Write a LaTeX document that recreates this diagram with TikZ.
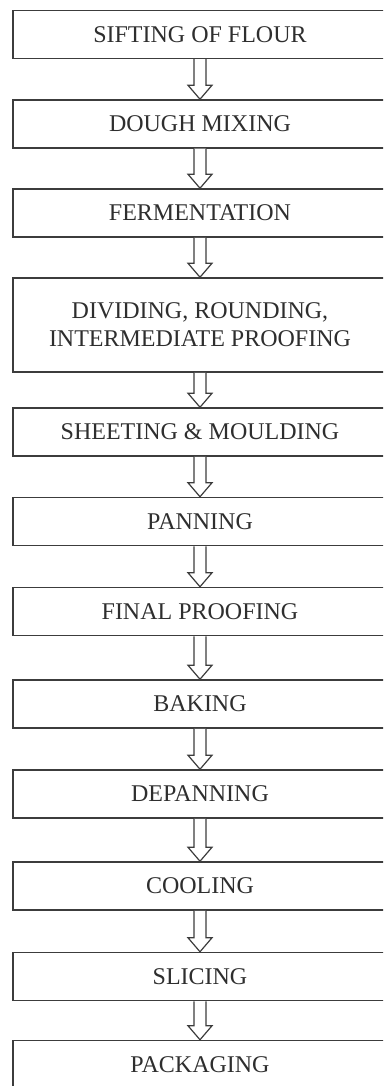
\documentclass[tikz,border=0pt]{standalone}
\usepackage{fontspec}
\setmainfont{Liberation Serif}
\usetikzlibrary{calc}
\definecolor{boxline}{HTML}{3C3C3C}
\definecolor{boxtext}{HTML}{2E2E2E}
\begin{document}
\begin{tikzpicture}[x=1pt, y=1pt, line width=1.5pt,
    step node/.style={rectangle, draw=boxline, text=boxtext, minimum width=374pt, minimum height=48pt, inner sep=0pt, align=center, font=\fontsize{24}{28}\selectfont},
    block arrow/.style={draw=boxline, fill=white, line width=1.2pt, to path={($(\tikztostart)+(-6,0)$) -- ($(\tikztotarget)+(-6,14)$) -- ++(-6,0) -- (\tikztotarget) -- ++(12,14) -- ++(-6,0) -- ($(\tikztostart)+(6,0)$) \tikztonodes}}]

                \path[use as bounding box] (0,0) rectangle (383,-1086);
                \clip (0,0) rectangle (383,-1086);

                \node[step node] at (200, -34.5) (sift) {SIFTING OF FLOUR};
                \node[step node] at (200, -124) (mix) {DOUGH MIXING};
                \node[step node] at (200, -213) (ferm) {FERMENTATION};
                \node[step node, minimum height=94pt] at (200, -325) (divide) {DIVIDING, ROUNDING,\\INTERMEDIATE PROOFING};
                \node[step node] at (200, -432) (sheet) {SHEETING \& MOULDING};
                \node[step node] at (200, -521.5) (pan) {PANNING};
                \node[step node] at (200, -611.5) (proof) {FINAL PROOFING};
                \node[step node] at (200, -704) (bake) {BAKING};
                \node[step node] at (200, -794) (depan) {DEPANNING};
                \node[step node] at (200, -886) (cool) {COOLING};
                \node[step node] at (200, -976.5) (slice) {SLICING};
                \node[step node] at (200, -1064.5) (pack) {PACKAGING};


                \path (sift.south) edge[block arrow] (mix.north);
                \path (mix.south) edge[block arrow] (ferm.north);
                \path (ferm.south) edge[block arrow] (divide.north);
                \path (divide.south) edge[block arrow] (sheet.north);
                \path (sheet.south) edge[block arrow] (pan.north);
                \path (pan.south) edge[block arrow] (proof.north);
                \path (proof.south) edge[block arrow] (bake.north);
                \path (bake.south) edge[block arrow] (depan.north);
                \path (depan.south) edge[block arrow] (cool.north);
                \path (cool.south) edge[block arrow] (slice.north);
                \path (slice.south) edge[block arrow] (pack.north);
            \end{tikzpicture}
\end{document}
